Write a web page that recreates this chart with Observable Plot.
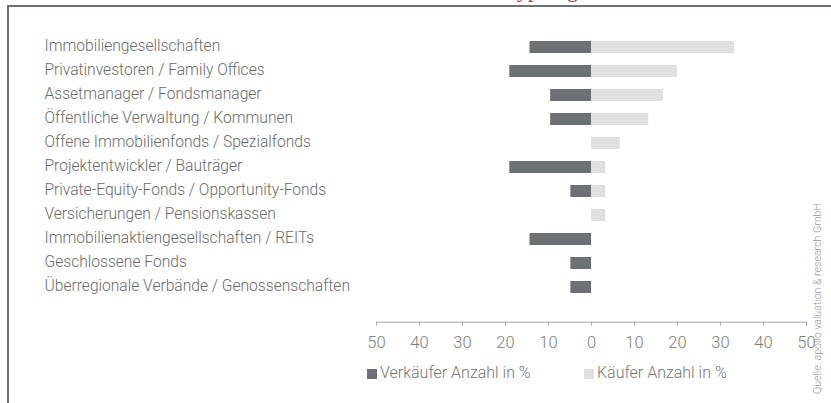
<!DOCTYPE html>
<html><head><meta charset="utf-8">
<script src="https://cdn.jsdelivr.net/npm/d3@7"></script>
<script src="https://cdn.jsdelivr.net/npm/@observablehq/plot@0.6"></script>
<style>
body{margin:0;background:#fff;}
#wrap{position:relative;width:831px;height:403px;overflow:hidden;font-family:Roboto,"Liberation Sans",sans-serif;font-weight:300;color:#6e6e6e;}
#wrap svg{position:absolute;left:0;top:0;}
.border{position:absolute;left:7px;top:5px;width:830px;height:400px;border-top:2px solid #6d7175;border-left:2px solid #6d7175;}
.title{position:absolute;left:505px;top:-21px;font-family:"Liberation Serif","DejaVu Serif",serif;font-size:22px;line-height:1;color:#b0303a;white-space:nowrap;font-weight:400;}
.leg{position:absolute;top:364px;font-size:16px;line-height:18px;color:#777;white-space:nowrap;}
.leg span.sw{display:inline-block;width:10px;height:10px;margin-right:3px;vertical-align:-1px;}
.src{position:absolute;left:813px;top:394px;transform:rotate(-90deg);transform-origin:0 0;font-size:10.6px;line-height:10px;color:#9a9a9a;white-space:nowrap;}
</style></head><body><div id="wrap"></div>
<script>
const categories = [
  "Immobiliengesellschaften",
  "Privatinvestoren / Family Offices",
  "Assetmanager / Fondsmanager",
  "Öffentliche Verwaltung / Kommunen",
  "Offene Immobilienfonds / Spezialfonds",
  "Projektentwickler / Bauträger",
  "Private-Equity-Fonds / Opportunity-Fonds",
  "Versicherungen / Pensionskassen",
  "Immobilienaktiengesellschaften / REITs",
  "Geschlossene Fonds",
  "Überregionale Verbände / Genossenschaften"
];
const sellers = [14.3, 19.0, 9.5, 9.5, 0, 19.0, 4.8, 0, 14.3, 4.8, 4.8];
const buyers  = [33.3, 20.0, 16.7, 13.3, 6.7, 3.3, 3.3, 3.3, 0, 0, 0];
const xTicks = [-50, -40, -30, -20, -10, 0, 10, 20, 30, 40, 50];
const seriesNames = ["Verkäufer Anzahl in %", "Käufer Anzahl in %"];
const seriesColors = ["#6d7175", "#e0e0e0"];
const titleText = "Typologie";
const sourceText = "Quelle: apollo valuation & research GmbH";

const rows = [];
categories.forEach((c, i) => {
  if (sellers[i] > 0) rows.push({cat: c, series: seriesNames[0], v: -sellers[i]});
  if (buyers[i] > 0) rows.push({cat: c, series: seriesNames[1], v: buyers[i]});
});

const chart = Plot.plot({
  width: 831,
  height: 403,
  marginLeft: 376,
  marginRight: 25,
  marginTop: 35.3,
  marginBottom: 81.3,
  style: {fontFamily: "Roboto, 'Liberation Sans', sans-serif", fontWeight: 300, background: "transparent"},
  x: {domain: [-50, 50]},
  y: {domain: categories, type: "band", paddingInner: 0.5, paddingOuter: 0.25, insetBottom: 22.4},
  color: {domain: seriesNames, range: seriesColors},
  marks: [
    Plot.barX(rows, {x1: 0, x2: "v", y: "cat", fill: "series"}),
    Plot.axisY({tickSize: 0, textAnchor: "start", dx: -323, dy: -2, fontSize: 15.6, fill: "#6b6b6b", label: null}),
    Plot.frame({anchor: "bottom", stroke: "#aaaaaa"}),
    Plot.axisX({ticks: xTicks, tickFormat: d => Math.abs(d), tickSize: 4, tickPadding: 10, stroke: "#aaaaaa", fill: "#808080", fontSize: 16.5, label: null})
  ]
});

const wrap = document.getElementById("wrap");
wrap.appendChild(chart);

const border = document.createElement("div"); border.className = "border"; wrap.appendChild(border);
const title = document.createElement("div"); title.className = "title"; title.textContent = titleText; wrap.appendChild(title);

const legPos = [367, 584];
seriesNames.forEach((s, i) => {
  const d = document.createElement("div");
  d.className = "leg";
  d.style.left = legPos[i] + "px";
  const sw = document.createElement("span");
  sw.className = "sw";
  sw.style.background = seriesColors[i];
  d.appendChild(sw);
  d.appendChild(document.createTextNode(s));
  wrap.appendChild(d);
});

const src = document.createElement("div"); src.className = "src"; src.textContent = sourceText; wrap.appendChild(src);
</script>
</body></html>
